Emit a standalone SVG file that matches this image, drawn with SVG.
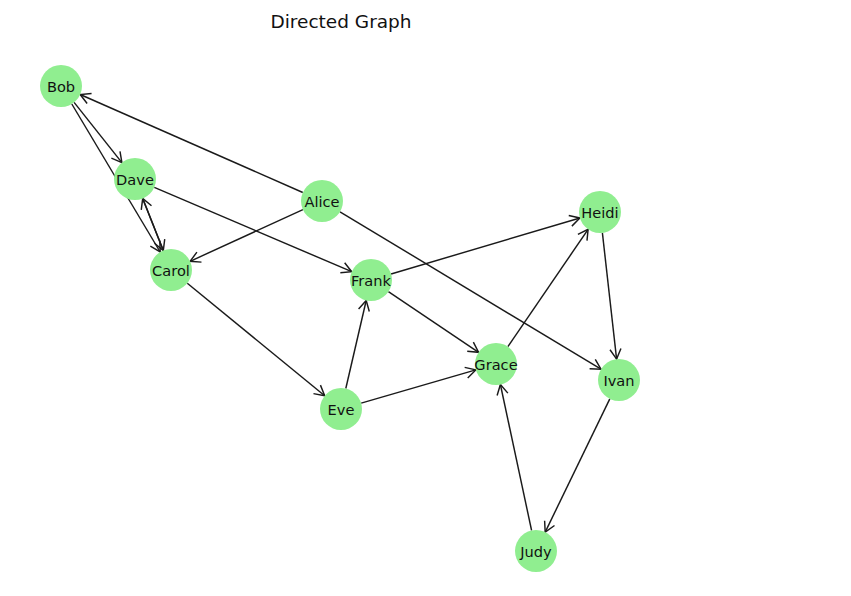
<svg xmlns="http://www.w3.org/2000/svg" width="851" height="596" viewBox="0 0 851 596">
<style>
.e{stroke:#1a1a1a;stroke-width:1.45;fill:none;marker-end:url(#ah)}
.n circle{fill:#90ee90}
.n text{font-family:"DejaVu Sans",sans-serif;font-size:14.6px;fill:#111;text-anchor:middle;dominant-baseline:central}
.t{font-family:"DejaVu Sans",sans-serif;font-size:18.5px;fill:#111;text-anchor:middle}
</style>
<defs>
<marker id="ah" markerUnits="userSpaceOnUse" orient="auto" markerWidth="14" markerHeight="14" refX="0" refY="0" viewBox="-12 -7 14 14" overflow="visible">
<path d="M-10,-5.5 L0,0 L-10,5.5" stroke="#1a1a1a" stroke-width="1.45" fill="none"/>
</marker>
</defs>
<rect width="851" height="596" fill="#fff"/>
<text class="t" x="341" y="27.5">Directed Graph</text>
<g id="edges">
<line class="e" x1="302.8" y1="192.5" x2="80.2" y2="94.5"/>
<line class="e" x1="302.9" y1="209.7" x2="190.1" y2="261.3"/>
<line class="e" x1="340" y1="211.8" x2="601" y2="369.2"/>
<line class="e" x1="74.1" y1="102.4" x2="121.9" y2="162.6"/>
<line class="e" x1="71.8" y1="104" x2="160.2" y2="252"/>
<line class="e" x1="142.7" y1="198.5" x2="163.3" y2="250.5"/>
<line class="e" x1="163.3" y1="250.5" x2="142.7" y2="198.5"/>
<line class="e" x1="154.3" y1="187.3" x2="351.7" y2="271.7"/>
<line class="e" x1="187.3" y1="283.3" x2="324.7" y2="395.7"/>
<line class="e" x1="345.8" y1="388.5" x2="366.2" y2="300.5"/>
<line class="e" x1="361.2" y1="403.1" x2="475.8" y2="369.9"/>
<line class="e" x1="391.1" y1="274" x2="579.9" y2="218"/>
<line class="e" x1="388.4" y1="291.7" x2="478.6" y2="352.3"/>
<line class="e" x1="507.9" y1="346.7" x2="588.1" y2="229.3"/>
<line class="e" x1="602.4" y1="232.9" x2="616.6" y2="359.1"/>
<line class="e" x1="609.8" y1="398.9" x2="545.2" y2="532.1"/>
<line class="e" x1="531.6" y1="530.5" x2="500.4" y2="384.5"/>
</g>
<g id="node-bob" class="n"><circle cx="61" cy="86" r="21"/><text x="61" y="86">Bob</text></g>
<g id="node-dave" class="n"><circle cx="135" cy="179" r="21"/><text x="135" y="179">Dave</text></g>
<g id="node-alice" class="n"><circle cx="322" cy="201" r="21"/><text x="322" y="201">Alice</text></g>
<g id="node-carol" class="n"><circle cx="171" cy="270" r="21"/><text x="171" y="270">Carol</text></g>
<g id="node-frank" class="n"><circle cx="371" cy="280" r="21"/><text x="371" y="280">Frank</text></g>
<g id="node-heidi" class="n"><circle cx="600" cy="212" r="21"/><text x="600" y="212">Heidi</text></g>
<g id="node-grace" class="n"><circle cx="496" cy="364" r="21"/><text x="496" y="364">Grace</text></g>
<g id="node-ivan" class="n"><circle cx="619" cy="380" r="21"/><text x="619" y="380">Ivan</text></g>
<g id="node-eve" class="n"><circle cx="341" cy="409" r="21"/><text x="341" y="409">Eve</text></g>
<g id="node-judy" class="n"><circle cx="536" cy="551" r="21"/><text x="536" y="551">Judy</text></g>
</svg>
